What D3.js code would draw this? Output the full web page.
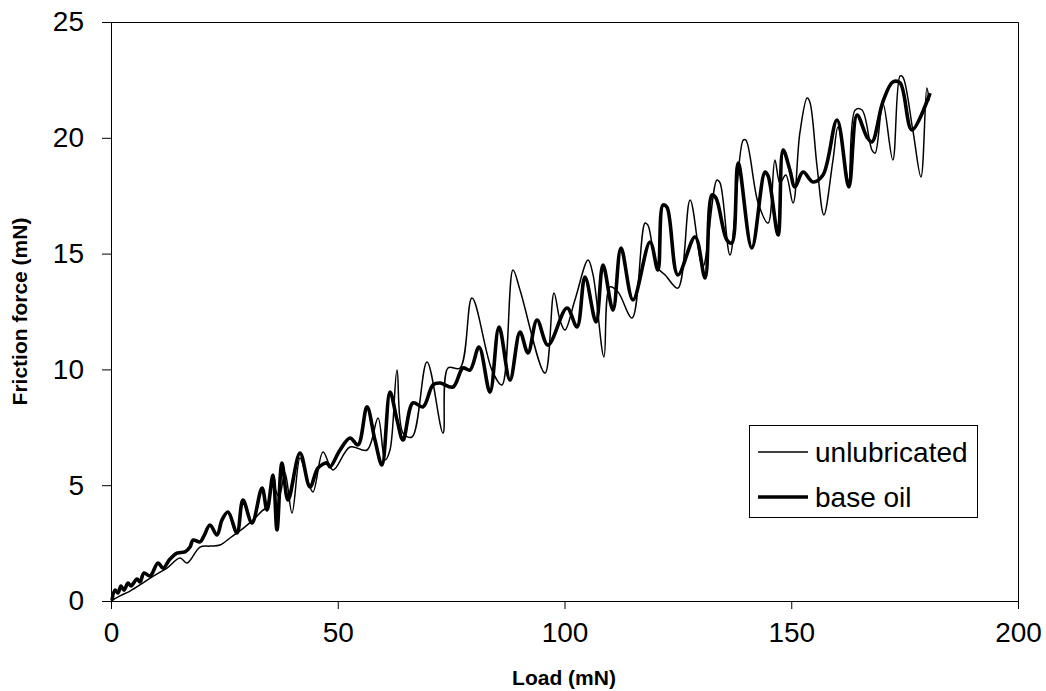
<!DOCTYPE html>
<html>
<head>
<meta charset="utf-8">
<script src="https://cdn.jsdelivr.net/npm/d3@7/dist/d3.min.js"></script>
<style>
  body { margin: 0; background: #fff; }
  svg { display: block; font-family: Arial, "Liberation Sans", sans-serif; }
</style>
</head>
<body>
<svg id="chart" width="1046" height="691"></svg>
<script>
// ---- data (Load mN, Friction force mN) ----
const unlubLoad = [0,1.98,4.19,7.06,9.7,12.35,15.21,16.76,19.63,21.83,24.04,26.24,27.78,29.55,31.75,33.3,34.4,35.72,37.04,38.37,39.91,41.68,43.0,44.54,46.75,48.95,52.7,56.45,58.88,60.42,61.52,63.07,64.39,66.37,69.68,73.21,74.31,76.96,79.6,84.0,86.2,88.64,90.19,95.7,97.68,99.0,100.1,102.3,105.2,106.3,108.7,110.0,111.8,114.9,117.75,118.4,120.4,122.2,125.0,127.7,130.5,133.6,134.3,136.5,139.4,140.0,142.7,144.9,146.4,147.5,148.8,150.4,151.9,153.5,154.1,155.7,157.2,159.2,160.3,161.9,162.7,164.1,165.6,167.8,168.5,170.2,172.4,174.0,174.6,176.8,178.6,179.9,180.4];
const unlubForce = [0,0.22,0.43,0.78,1.12,1.42,1.86,1.64,2.33,2.37,2.42,2.72,2.94,3.2,3.58,3.89,4.06,5.01,4.49,5.53,3.8,6.17,5.44,4.71,6.43,5.66,6.65,6.52,7.9,6.09,6.52,9.97,7.25,7.08,10.32,7.25,10.06,10.06,13.08,9.97,9.33,14.29,13.43,9.84,13.3,12.13,11.7,13.0,14.72,14.08,10.54,13.56,13.34,12.22,16.32,16.23,14.42,14.08,13.51,17.31,14.42,18.18,18.05,14.94,19.9,19.9,17.18,16.32,19.04,18.05,18.39,17.18,20.21,21.72,21.55,18.74,16.67,19.04,20.47,18.83,17.88,21.2,21.2,19.47,19.34,21.5,19.04,22.67,22.63,20.34,18.31,22.15,21.6];

const baseLoad = [0.22,0.88,1.54,2.2,2.87,3.75,4.41,5.73,6.39,7.28,8.6,10.36,11.47,13.0,14.55,16.32,17.42,18.08,19.63,20.5,21.83,23.37,24.48,25.8,27.78,29.1,31.09,33.3,34.4,35.72,36.6,37.7,39.03,41.68,43.88,45.65,47.63,48.29,50.5,52.7,54.47,56.45,58.2,59.76,61.52,63.07,64.39,66.59,68.8,71.0,72.55,75.4,77.6,79.16,81.15,83.57,85.56,87.98,90.19,91.95,93.94,96.36,100.55,102.76,104.52,106.95,108.49,110.69,112.46,115.1,118.85,120.6,121.7,122.6,125.0,128.8,131.0,132.5,133.4,135.8,136.9,138.3,141.3,144.2,144.9,147.1,148.2,149.7,150.8,152.6,154.8,157.0,160.1,162.7,164.5,166.7,167.8,170.2,172.4,174.0,176.6,180.6];
const baseForce = [0.04,0.47,0.35,0.65,0.47,0.78,0.65,0.95,0.82,1.21,1.08,1.64,1.42,1.81,2.07,2.12,2.33,2.63,2.55,2.81,3.28,2.85,3.5,3.84,2.94,4.36,3.37,4.88,3.93,5.44,3.07,5.96,4.36,6.39,4.92,5.74,5.96,5.79,6.52,7.04,6.74,8.38,6.95,5.87,9.02,7.82,6.95,8.55,8.38,9.33,9.41,9.24,10.06,9.97,10.97,9.02,11.83,9.54,11.61,10.71,12.13,11.05,12.65,11.83,13.99,12.05,14.51,12.56,15.24,13.0,15.5,14.29,17.1,17.0,14.08,15.72,13.95,17.53,17.4,15.59,15.46,18.91,15.24,18.52,18.35,15.8,19.47,18.61,17.88,18.52,18.09,18.39,20.77,17.88,20.98,20.03,19.82,21.55,22.41,22.37,20.34,21.93];

const xTicks = [0, 50, 100, 150, 200];
const yTicks = [0, 5, 10, 15, 20, 25];
const seriesNames = ["unlubricated", "base oil"];

// ---- layout ----
const pL = 111, pR = 1018, pT = 22, pB = 601;
const svg = d3.select("#chart");
const x = d3.scaleLinear().domain([0, 200]).range([pL, pR]);
const y = d3.scaleLinear().domain([0, 25]).range([pB, pT]);

// plot border (top & right)
svg.append("path")
  .attr("d", `M${pL},${pT + 0.5}H${pR + 0.5}V${pB}`)
  .attr("fill", "none").attr("stroke", "#000").attr("stroke-width", 1);

// axes
const xAxis = svg.append("g").attr("transform", `translate(0,${pB})`)
  .call(d3.axisBottom(x).tickValues(xTicks).tickSizeInner(8).tickSizeOuter(0).tickPadding(13));
const yAxis = svg.append("g").attr("transform", `translate(${pL},0)`)
  .call(d3.axisLeft(y).tickValues(yTicks).tickSizeInner(9).tickSizeOuter(0).tickPadding(18));
[xAxis, yAxis].forEach(g => {
  g.selectAll("path, line").attr("stroke", "#000");
  g.selectAll("text").attr("fill", "#000").style("font-size", "28px")
    .style("font-family", "Arial, 'Liberation Sans', sans-serif");
});

// axis titles
svg.append("text")
  .attr("x", 564).attr("y", 685)
  .attr("text-anchor", "middle")
  .style("font-size", "21px").style("font-weight", "bold")
  .text("Load (mN)");
svg.append("text")
  .attr("transform", `translate(27,${(pT + pB) / 2}) rotate(-90)`)
  .attr("text-anchor", "middle")
  .style("font-size", "21px").style("font-weight", "bold")
  .text("Friction force (mN)");

// lines
const line = d3.line().x(d => x(d[0])).y(d => y(d[1])).curve(d3.curveCatmullRom.alpha(0.5));
const unlub = unlubLoad.map((v, i) => [v, unlubForce[i]]);
const base = baseLoad.map((v, i) => [v, baseForce[i]]);
svg.append("path").datum(unlub).attr("d", line)
  .attr("fill", "none").attr("stroke", "#000").attr("stroke-width", 1.5).attr("stroke-linejoin", "round");
svg.append("path").datum(base).attr("d", line)
  .attr("fill", "none").attr("stroke", "#000").attr("stroke-width", 3.6).attr("stroke-linejoin", "round");

// legend
const lg = svg.append("g");
lg.append("rect").attr("x", 749.5).attr("y", 425.5).attr("width", 228).attr("height", 92)
  .attr("fill", "#fff").attr("stroke", "#000").attr("stroke-width", 1);
const widths = [1.5, 3.6];
seriesNames.forEach((name, i) => {
  const cy = 452 + i * 45;
  lg.append("line").attr("x1", 758).attr("x2", 808).attr("y1", cy).attr("y2", cy)
    .attr("stroke", "#000").attr("stroke-width", widths[i]);
  lg.append("text").attr("x", 815).attr("y", cy + 10)
    .style("font-size", "28px").text(name);
});
</script>
</body>
</html>
